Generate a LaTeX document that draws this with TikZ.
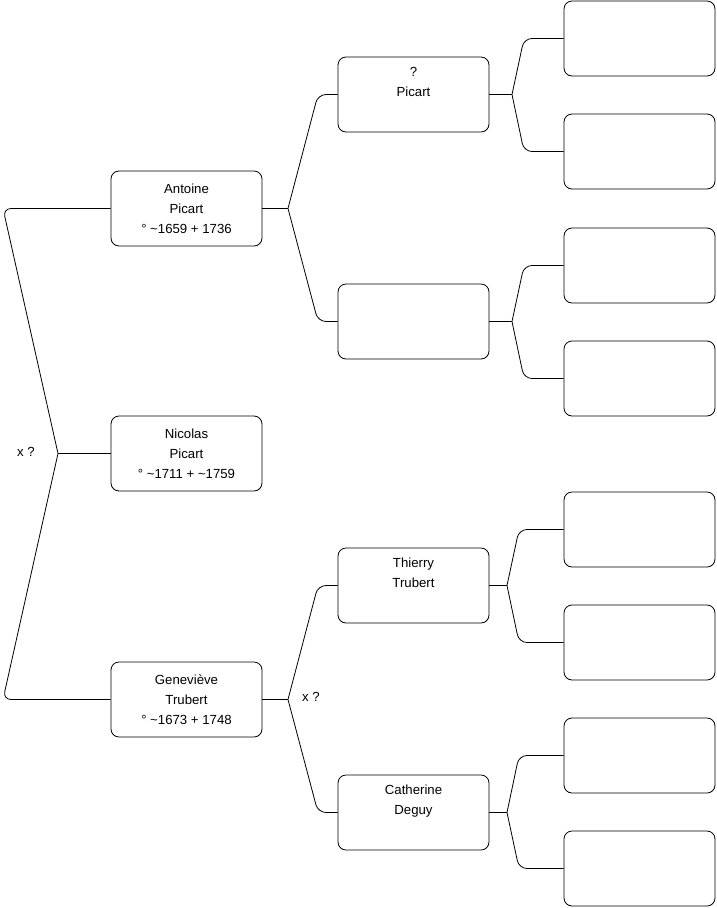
\documentclass[tikz,border=0pt]{standalone}
\usepackage{fontspec}
\setmainfont{Liberation Sans}
\usepackage{tikz}

\tikzset{
    person/.style={draw, line width=0.8pt, rounded corners=8pt, minimum width=151pt,
        minimum height=75pt, align=center, inner sep=0pt,
        font=\fontsize{13.2}{20}\selectfont},
    link/.style={line width=0.8pt, rounded corners=8pt},
    note/.style={font=\fontsize{13.2}{15}\selectfont}
}

\begin{document}
\begin{tikzpicture}[x=1pt, y=-1pt]
    \useasboundingbox (0,0) rectangle (716,908);
    % First column: the child and the parents.
        \node[person] (antoine) at (186.5,208.5) {Antoine\\Picart\\° \textasciitilde1659 + 1736};
        \node[person] (nicolas) at (186.5,453.5) {Nicolas\\Picart\\° \textasciitilde1711 + \textasciitilde1759};
        \node[person] (genevieve) at (186.5,699.5) {Geneviève\\Trubert\\° \textasciitilde1673 + 1748};
    % Second column: grandparents.
        \node[person] (picartq) at (413.5,94.5) {?\\Picart\\\strut};
        \node[person] (empty) at (413.5,321.5) {};
        \node[person] (thierry) at (413.5,585.5) {Thierry\\Trubert\\\strut};
        \node[person] (catherine) at (413.5,812.5) {Catherine\\Deguy\\\strut};
    % Third column: empty boxes.
        \node[person] (r1) at (639.5,38.5) {};
        \node[person] (r2) at (639.5,151.5) {};
        \node[person] (r3) at (639.5,265.5) {};
        \node[person] (r4) at (639.5,378.5) {};
        \node[person] (r5) at (639.5,529.5) {};
        \node[person] (r6) at (639.5,642.5) {};
        \node[person] (r7) at (639.5,755.5) {};
        \node[person] (r8) at (639.5,868.5) {};
    % Marriage marks.
        \node[note] (xa) at (26,452) {x ?};
        \node[note] (xb) at (311,697) {x ?};
    % The forks.
        \coordinate (fn) at (58,453.5);
        \draw[link] (nicolas.west) -- (fn);
        \draw[link] (fn) -- (3,208.5) -- (antoine.west);
        \draw[link] (fn) -- (3,699.5) -- (genevieve.west);

        \coordinate (fa) at (288,208.5);
        \draw[link] (antoine.east) -- (fa);
        \draw[link] (fa) -- (318,94.5) -- (picartq.west);
        \draw[link] (fa) -- (318,321.5) -- (empty.west);

        \coordinate (fg) at (288,699.5);
        \draw[link] (genevieve.east) -- (fg);
        \draw[link] (fg) -- (318,585.5) -- (thierry.west);
        \draw[link] (fg) -- (318,812.5) -- (catherine.west);

        \coordinate (fp) at (512,94.5);
        \draw[link] (picartq.east) -- (fp);
        \draw[link] (fp) -- (524,38.5) -- (r1.west);
        \draw[link] (fp) -- (524,151.5) -- (r2.west);

        \coordinate (fe) at (512,321.5);
        \draw[link] (empty.east) -- (fe);
        \draw[link] (fe) -- (524,265.5) -- (r3.west);
        \draw[link] (fe) -- (524,378.5) -- (r4.west);

        \coordinate (ft) at (507,585.5);
        \draw[link] (thierry.east) -- (ft);
        \draw[link] (ft) -- (519,529.5) -- (r5.west);
        \draw[link] (ft) -- (519,642.5) -- (r6.west);

        \coordinate (fc) at (507,812.5);
        \draw[link] (catherine.east) -- (fc);
        \draw[link] (fc) -- (519,755.5) -- (r7.west);
        \draw[link] (fc) -- (519,868.5) -- (r8.west);
\end{tikzpicture}
\end{document}
